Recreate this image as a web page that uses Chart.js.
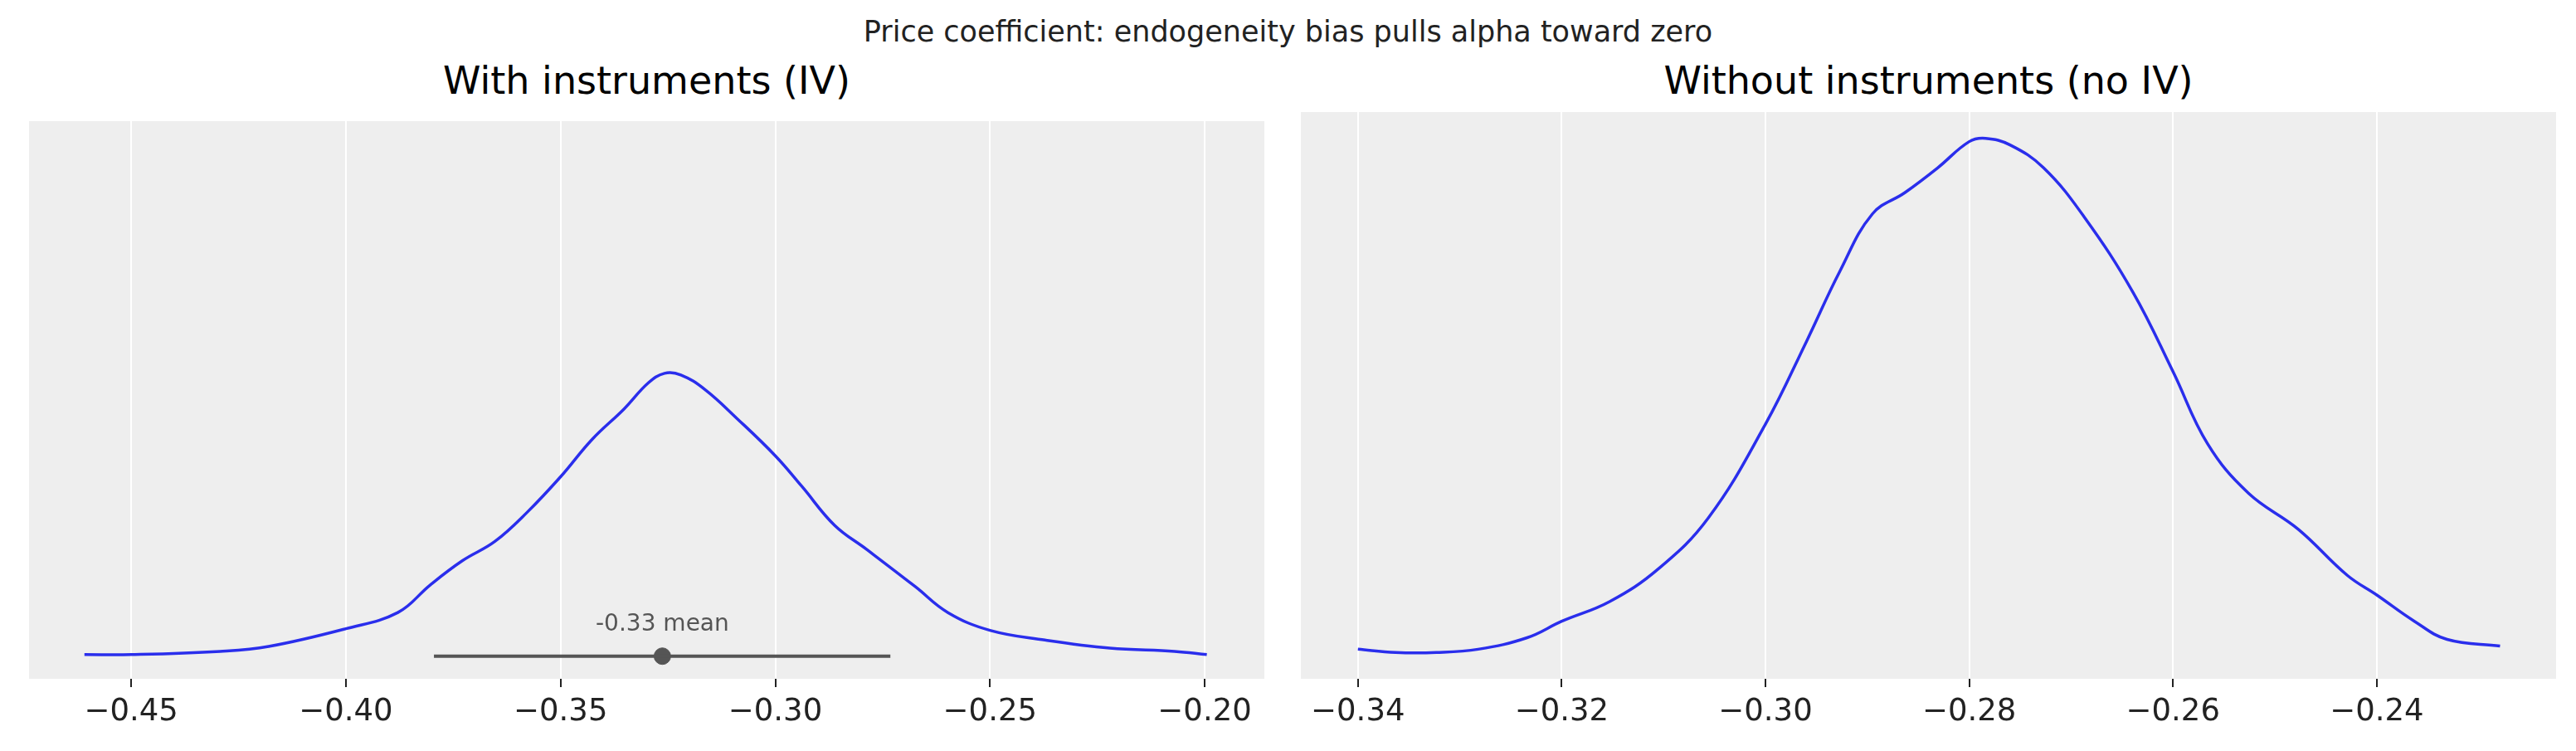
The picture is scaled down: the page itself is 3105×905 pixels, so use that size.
<!DOCTYPE html>
<html>
<head>
<meta charset="utf-8">
<script src="https://cdn.jsdelivr.net/npm/chart.js@4.4.0/dist/chart.umd.min.js"></script>
<style>
  body { margin: 0; width: 3105px; height: 905px; background: #fff; position: relative; font-family: "DejaVu Sans", sans-serif; overflow: hidden; }
  .txt { position: absolute; text-align: center; color: #222; white-space: nowrap; }
  .panel { position: absolute; top: 135px; height: 770px; }
</style>
</head>
<body>
<div class="txt" style="left:0;width:3105px;top:18px;font-size:35px;">Price coefficient: endogeneity bias pulls alpha toward zero</div>
<div class="txt" style="left:24px;width:1511px;top:70px;font-size:46px;color:#000;">With instruments (IV)</div>
<div class="txt" style="left:1568px;width:1513px;top:70px;font-size:46px;color:#000;">Without instruments (no IV)</div>
<div class="panel" style="left:24px;width:1511px;"><canvas id="left"></canvas></div>
<div class="panel" style="left:1568px;width:1513px;"><canvas id="right"></canvas></div>
<script>
// KDE curve, with instruments
const ivX = [-0.4609, -0.45, -0.4293, -0.4180, -0.40, -0.3879, -0.3804, -0.3729, -0.3653, -0.3578, -0.35, -0.3427, -0.3352, -0.3296, -0.3258, -0.3220, -0.3164, -0.3089, -0.30, -0.2938, -0.2862, -0.2787, -0.2674, -0.2598, -0.25, -0.2372, -0.2221, -0.2070, -0.1995];
const ivY = [0, 0, 2, 5, 16, 26, 43, 58, 70, 88, 110, 133, 152, 168, 174, 173, 164, 146, 123, 104, 80, 65, 42, 26, 15, 9, 4, 2, 0];
// KDE curve, without instruments
const noX = [-0.34, -0.3363, -0.3323, -0.3282, -0.3234, -0.32, -0.3153, -0.3105, -0.3056, -0.30, -0.2960, -0.2927, -0.2895, -0.2863, -0.2831, -0.28, -0.2784, -0.2760, -0.2727, -0.2687, -0.2639, -0.26, -0.2566, -0.2526, -0.2477, -0.2429, -0.24, -0.2363, -0.2331, -0.2279];
const noY = [0, -2, -2, 0, 7, 17, 29, 49, 80, 137, 187, 230, 265, 278, 293, 309, 311, 307, 293, 263, 217, 169, 125, 95, 73, 45, 33, 17, 6, 2];
// mean and interval marker
const ivMean = -0.3263;
const ivInterval = [-0.3795, -0.2732];
const ivMeanLabel = "-0.33 mean";
const ivTicks = [-0.45, -0.40, -0.35, -0.30, -0.25, -0.20];
const noTicks = [-0.34, -0.32, -0.30, -0.28, -0.26, -0.24];

const bgPlugin = {
  id: "bg",
  beforeDraw(chart) {
    const a = chart.chartArea, c = chart.ctx;
    c.save(); c.fillStyle = "#eeeeee";
    c.fillRect(a.left, a.top, a.right - a.left, a.bottom - a.top);
    c.restore();
  }
};
const meanLabelPlugin = {
  id: "meanLabel",
  afterDatasetsDraw(chart) {
    if (chart.canvas.id !== "left") return;
    const c = chart.ctx;
    const x = chart.scales.x.getPixelForValue(ivMean);
    const y = chart.scales.y.getPixelForValue(0);
    c.save(); c.fillStyle = "#555"; c.font = "28px 'DejaVu Sans'";
    c.textAlign = "center"; c.textBaseline = "bottom";
    c.fillText(ivMeanLabel, x, y - 22);
    c.restore();
  }
};

const fmt = v => (v < 0 ? "\u2212" : "") + Math.abs(v).toFixed(2);

function makeChart(id, xs, ys, ticks, xmin, xmax, ymin, ymax, extra) {
  const datasets = [{
    data: xs.map((x, i) => ({ x, y: ys[i] })),
    borderColor: "#2a2eec", borderWidth: 3.5, pointRadius: 0, tension: 0.4, fill: false
  }].concat(extra);
  return new Chart(document.getElementById(id), {
    type: "line",
    data: { datasets },
    options: {
      responsive: true, maintainAspectRatio: false, animation: false, devicePixelRatio: 1,
      layout: { padding: 0 },
      plugins: { legend: { display: false }, tooltip: { enabled: false } },
      scales: {
        x: {
          type: "linear", min: xmin, max: xmax,
          border: { display: false },
          grid: { color: "#ffffff", lineWidth: 2, drawTicks: true, tickLength: 10, tickColor: "#222" },
          ticks: { color: "#222", font: { size: 37, family: "DejaVu Sans" }, padding: 8,
                   maxRotation: 0, minRotation: 0, autoSkip: false, callback: v => fmt(v) },
          afterBuildTicks: s => { s.ticks = ticks.map(v => ({ value: v })); },
          afterFit: s => { s.height = 87; s.paddingLeft = 0; s.paddingRight = 0; s.paddingTop = 0; s.paddingBottom = 0; }
        },
        y: { display: false, min: ymin, max: ymax }
      }
    },
    plugins: [bgPlugin, meanLabelPlugin]
  });
}

makeChart("left", ivX, ivY, ivTicks, -0.4738, -0.1861, -15, 330, [
  { data: ivInterval.map(x => ({ x, y: -1 })), borderColor: "#555", borderWidth: 4, pointRadius: 0 },
  { data: [{ x: ivMean, y: -1 }], borderColor: "#555", backgroundColor: "#555", pointRadius: 10, showLine: false }
]);
makeChart("right", noX, noY, noTicks, -0.3456, -0.2224, -18, 327, []);
</script>
</body>
</html>
